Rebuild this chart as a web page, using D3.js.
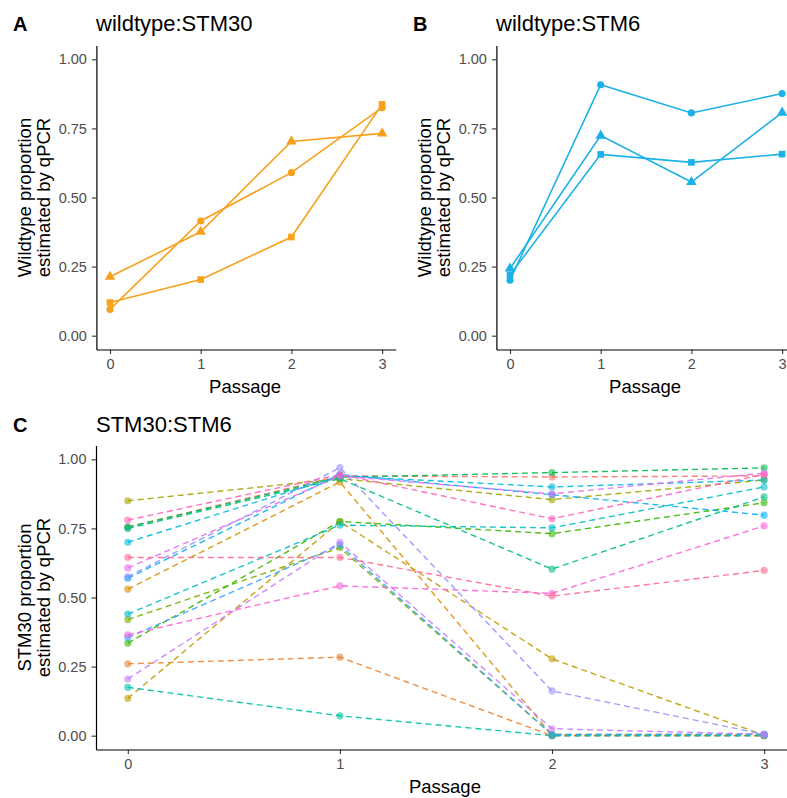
<!DOCTYPE html>
<html>
<head>
<meta charset="utf-8">
<script src="https://cdn.jsdelivr.net/npm/d3@7"></script>
<style>
body { margin: 0; background: #fff; }
svg { display: block; font-family: "Liberation Sans", Arial, sans-serif; }
</style>
</head>
<body>
<div id="chart"></div>
<script>
var passages = [0, 1, 2, 3];
var tickValuesY = [0, 0.25, 0.5, 0.75, 1];

// A - wildtype:STM30, one array per replicate (circle, triangle, square)
var wtStm30Circle = [0.095, 0.415, 0.59, 0.825];
var wtStm30Triangle = [0.213, 0.376, 0.703, 0.732];
var wtStm30Square = [0.12, 0.203, 0.357, 0.837];

// B - wildtype:STM6
var wtStm6Circle = [0.201, 0.908, 0.806, 0.876];
var wtStm6Triangle = [0.243, 0.724, 0.556, 0.807];
var wtStm6Square = [0.22, 0.656, 0.627, 0.657];

// C - STM30:STM6, one row per competition
var stm30Runs = [
	[0.755, 0.940, 0.936, 0.940],
	[0.260, 0.284, 0.000, 0.000],
	[0.530, 0.918, 0.002, 0.001],
	[0.135, 0.775, 0.278, 0.002],
	[0.850, 0.930, 0.854, 0.925],
	[0.420, 0.680, 0.004, 0.005],
	[0.335, 0.775, 0.731, 0.843],
	[0.755, 0.935, 0.952, 0.969],
	[0.750, 0.930, 0.603, 0.864],
	[0.175, 0.072, 0.000, 0.000],
	[0.440, 0.762, 0.752, 0.900],
	[0.700, 0.940, 0.900, 0.925],
	[0.570, 0.945, 0.872, 0.798],
	[0.355, 0.690, 0.004, 0.005],
	[0.575, 0.970, 0.162, 0.005],
	[0.205, 0.700, 0.025, 0.005],
	[0.607, 0.940, 0.875, 0.950],
	[0.365, 0.542, 0.515, 0.759],
	[0.780, 0.945, 0.785, 0.945],
	[0.645, 0.645, 0.505, 0.598]
];

// ggplot default hue palette for 20 groups
var hue20 = ["#F8766D", "#EA8331", "#D89000", "#C09B00", "#A3A500", "#7CAE00", "#39B600", "#00BB4E",
	"#00BF7D", "#00C1A3", "#00BFC4", "#00BAE0", "#00B0F6", "#35A2FF", "#9590FF", "#C77CFF",
	"#E76BF3", "#FA62DB", "#FF62BC", "#FF6C91"];

var svg = d3.select("#chart").append("svg").attr("width", 787).attr("height", 798);

function drawFrame(cfg) {
	var g = svg.append("g");
	var x = d3.scaleLinear().domain([-0.15, 3.15]).range([cfg.left, cfg.right]);
	var y = d3.scaleLinear().domain([-0.05, 1.05]).range([cfg.bottom, cfg.top]);

	var ya = g.append("g").attr("transform", "translate(" + cfg.left + ",0)")
		.call(d3.axisLeft(y).tickValues(tickValuesY).tickFormat(d3.format(".2f")).tickSize(4.5).tickSizeOuter(0).tickPadding(5));
	var xa = g.append("g").attr("transform", "translate(0," + cfg.bottom + ")")
		.call(d3.axisBottom(x).tickValues(passages).tickFormat(d3.format("d")).tickSize(4.5).tickSizeOuter(0).tickPadding(5));
	[ya, xa].forEach(function(a) {
		a.select(".domain").attr("stroke", "#000").attr("stroke-width", 1.2);
		a.selectAll(".tick line").attr("stroke", "#333").attr("stroke-width", 1.1);
		a.selectAll(".tick text").attr("fill", "#4D4D4D").attr("font-size", 14.5).attr("font-family", null);
	});

	// panel letter + title
	g.append("text").attr("x", 13).attr("y", cfg.titleY).attr("font-size", 20).attr("font-weight", "bold").text(cfg.letter);
	g.append("text").attr("x", 96).attr("y", cfg.titleY).attr("font-size", 22).text(cfg.title);

	// axis titles
	g.append("text").attr("x", (cfg.left + cfg.right) / 2 - 1).attr("y", cfg.bottom + 43).attr("text-anchor", "middle")
		.attr("font-size", 18.5).text("Passage");
	var cy = (cfg.top + cfg.bottom) / 2;
	cfg.yTitle.forEach(function(line, i) {
		g.append("text").attr("transform", "translate(" + (cfg.yTitleX + i * 19) + "," + cy + ") rotate(-90)")
			.attr("text-anchor", "middle").attr("font-size", 18.5).text(line);
	});
	return { g: g, x: x, y: y };
}

function drawReplicates(p, series, colour) {
	var line = d3.line().x(function(d, i) { return p.x(passages[i]); }).y(function(d) { return p.y(d); });
	var shapes = [d3.symbolCircle, d3.symbolTriangle, d3.symbolSquare];
	var sizes = [40, 48, 44];
	series.forEach(function(vals, k) {
		p.g.append("path").attr("d", line(vals)).attr("fill", "none").attr("stroke", colour).attr("stroke-width", 1.6);
		p.g.selectAll(null).data(vals).enter().append("path")
			.attr("transform", function(d, i) { return "translate(" + p.x(passages[i]) + "," + p.y(d) + ")"; })
			.attr("d", d3.symbol().type(shapes[k]).size(sizes[k]))
			.attr("fill", colour);
	});
}

var pA = drawFrame({ left: 96.4, right: 395.7, top: 45.5, bottom: 349.5, titleY: 31, letter: "A",
	title: "wildtype:STM30", yTitle: ["Wildtype proportion", "estimated by qPCR"], yTitleX: 31 });
drawReplicates(pA, [wtStm30Circle, wtStm30Triangle, wtStm30Square], "#F8A01C");

var pB = drawFrame({ left: 496.4, right: 795.7, top: 45.5, bottom: 349.5, titleY: 31, letter: "B",
	title: "wildtype:STM6", yTitle: ["Wildtype proportion", "estimated by qPCR"], yTitleX: 31 });
pB.g.selectAll("text").filter(function() { return !this.parentNode.classList.contains("tick"); })
	.each(function() {
		var t = d3.select(this);
		if (t.attr("transform")) {
			t.attr("transform", t.attr("transform").replace(/translate\(([\d.]+)/, function(m, v) { return "translate(" + (+v + 400); }));
		} else if (t.attr("text-anchor") !== "middle") {
			t.attr("x", +t.attr("x") + 400);
		}
	});
drawReplicates(pB, [wtStm6Circle, wtStm6Triangle, wtStm6Square], "#1CB1E7");

var pC = drawFrame({ left: 96, right: 795.9, top: 445.5, bottom: 749.5, titleY: 432, letter: "C",
	title: "STM30:STM6", yTitle: ["STM30 proportion", "estimated by qPCR"], yTitleX: 31 });
var lineC = d3.line().x(function(d, i) { return pC.x(passages[i]); }).y(function(d) { return pC.y(d); });
stm30Runs.forEach(function(vals, k) {
	pC.g.append("path").attr("d", lineC(vals)).attr("fill", "none").attr("stroke", hue20[k])
		.attr("stroke-width", 1.4).attr("stroke-dasharray", "6,4").attr("opacity", 0.9);
});
stm30Runs.forEach(function(vals, k) {
	pC.g.selectAll(null).data(vals).enter().append("circle")
		.attr("cx", function(d, i) { return pC.x(passages[i]); })
		.attr("cy", function(d) { return pC.y(d); })
		.attr("r", 3.6).attr("fill", hue20[k]).attr("fill-opacity", 0.6);
});
</script>
</body>
</html>
